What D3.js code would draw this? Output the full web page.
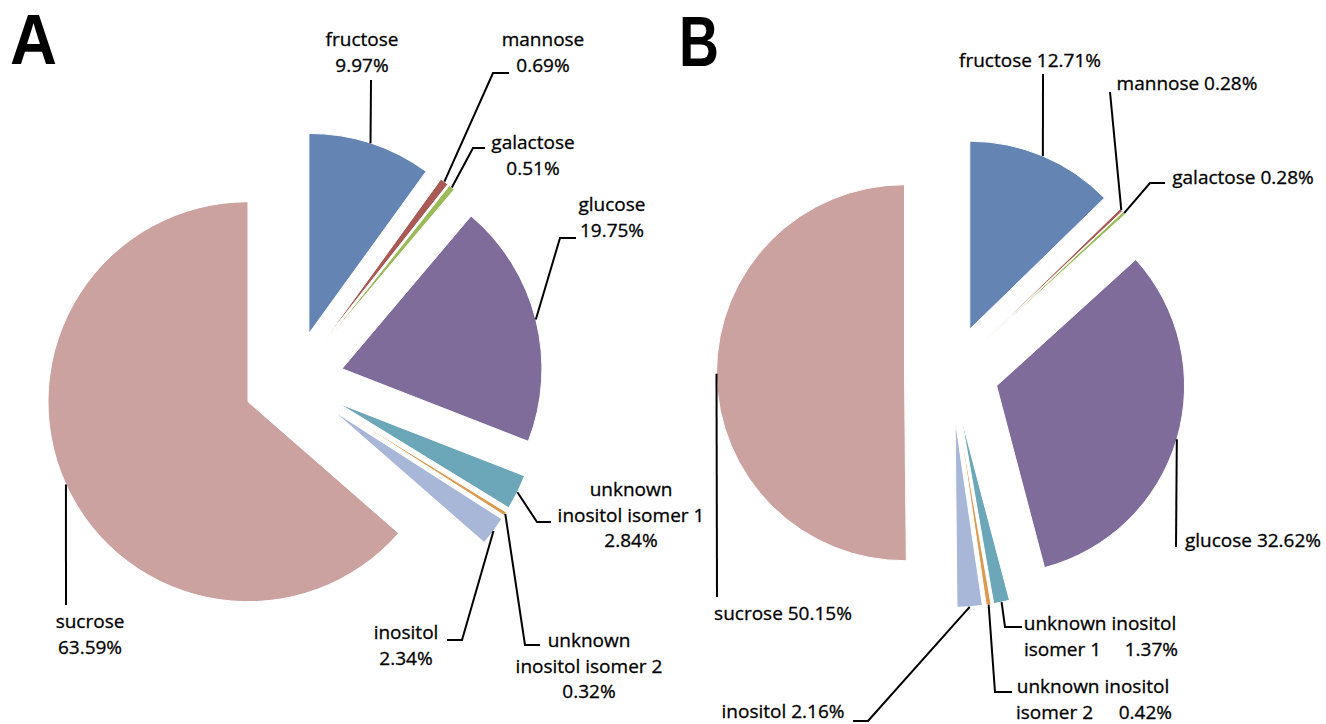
<!DOCTYPE html>
<html>
<head>
<meta charset="utf-8">
<script src="https://cdn.jsdelivr.net/npm/d3@7"></script>
<style>
  html, body { margin: 0; padding: 0; background: #fff; }
  svg { display: block; }
  text.lab { font-family: "Open Sans", "DejaVu Sans", sans-serif; fill: #000; stroke: #000; stroke-width: 0.3; }
  text.letter { font-family: "Liberation Sans", Arial, sans-serif; font-weight: bold; fill: #000; }
</style>
</head>
<body>
<svg id="chart" width="1326" height="724"></svg>
<script>
// ---- data ----
const categories = ["fructose", "mannose", "galactose", "glucose",
  "unknown inositol isomer 1", "unknown inositol isomer 2", "inositol", "sucrose"];
const valuesA = [9.97, 0.69, 0.51, 19.75, 2.84, 0.32, 2.34, 63.59];
const valuesB = [12.71, 0.28, 0.28, 32.62, 1.37, 0.42, 2.16, 50.15];
const panelLetters = ["A", "B"];
const colors = ["#6484B4", "#AA5A55", "#9BBB59", "#7F6C9B", "#6CA6B9", "#DB9A50", "#A8B6D7", "#CBA2A0"];

// ---- layout (positions only) ----
const pct = v => v.toFixed(2) + "%";

const panels = [
  {
    letter: panelLetters[0], letterX: 10, letterY: 64, letterW: 47,
    values: valuesA, cx: 293.5, cy: 381, r: 200, explode: 50,
    labels: [
      { lines: d => ["fructose", pct(d)], x: 362, y: 46, leader: [[371, 80]] },
      { lines: d => ["mannose", pct(d)], x: 543, y: 46, leader: [[493, 73], [509, 73]] },
      { lines: d => ["galactose", pct(d)], x: 533, y: 149, leader: [[473, 148], [485, 148]] },
      { lines: d => ["glucose", pct(d)], x: 612, y: 211, leader: [[560, 238], [576, 238]] },
      { lines: d => ["unknown", "inositol isomer 1", pct(d)], x: 631, y: 496, leader: [[537, 522], [551, 522]] },
      { lines: d => ["unknown", "inositol isomer 2", pct(d)], x: 589, y: 647, leader: [[525, 645], [540, 645]] },
      { lines: d => ["inositol", pct(d)], x: 406, y: 639, leader: [[462, 640], [447, 640]] },
      { lines: d => ["sucrose", pct(d)], x: 90, y: 628, leader: [[66, 605]] }
    ]
  },
  {
    letter: panelLetters[1], letterX: 679, letterY: 66, letterW: 40,
    values: valuesB, cx: 951.5, cy: 372.5, r: 188, explode: 47,
    labels: [
      { lines: d => ["fructose " + pct(d)], x: 1030, y: 67, leader: [[1043, 74]] },
      { lines: d => ["mannose " + pct(d)], x: 1187, y: 90, leader: [[1110, 92]] },
      { lines: d => ["galactose " + pct(d)], x: 1243, y: 184, leader: [[1150, 183], [1165, 183]] },
      { lines: d => ["glucose " + pct(d)], x: 1253, y: 547, leader: [[1176, 547]] },
      { lines: d => ["unknown inositol", ["isomer 1", pct(d)]], x: 1100, y: 630, span: [1024, 1178], leader: [[1005, 627], [1022, 627]] },
      { lines: d => ["unknown inositol", ["isomer 2", pct(d)]], x: 1093, y: 693, span: [1016, 1172], leader: [[995, 692], [1012, 692]] },
      { lines: d => ["inositol " + pct(d)], x: 783, y: 718, leader: [[868, 721], [853, 721]] },
      { lines: d => ["sucrose " + pct(d)], x: 783, y: 620, leader: [[717, 597]] }
    ]
  }
];

const svg = d3.select("#chart");
const lineH = 25.5;
const fs = 19;

panels.forEach(p => {
  const pie = d3.pie().sort(null).value(d => d).startAngle(0).endAngle(2 * Math.PI);
  const arcs = pie(p.values);
  const arc = d3.arc().innerRadius(0).outerRadius(p.r);
  const g = svg.append("g").attr("transform", `translate(${p.cx},${p.cy})`);

  const offset = a => {
    const m = (a.startAngle + a.endAngle) / 2;
    return [p.explode * Math.sin(m), -p.explode * Math.cos(m)];
  };

  g.selectAll("path.slice").data(arcs).enter().append("path")
    .attr("class", "slice")
    .attr("d", arc)
    .attr("transform", d => { const o = offset(d); return `translate(${o[0]},${o[1]})`; })
    .attr("fill", (d, i) => colors[i])
    .attr("stroke", "#fff").attr("stroke-width", 1);

  // leader lines: from slice arc midpoint to label
  arcs.forEach((a, i) => {
    const lab = p.labels[i];
    const m = (a.startAngle + a.endAngle) / 2;
    const o = offset(a);
    const sx = p.cx + o[0] + p.r * Math.sin(m);
    const sy = p.cy + o[1] - p.r * Math.cos(m);
    const pts = [[sx, sy]].concat(lab.leader);
    svg.append("path")
      .attr("d", d3.line()(pts))
      .attr("fill", "none").attr("stroke", "#000").attr("stroke-width", 2);

    const lines = lab.lines(a.data);
    lines.forEach((ln, k) => {
      const y = lab.y + k * lineH;
      if (Array.isArray(ln)) {
        svg.append("text").attr("class", "lab").attr("x", lab.span[0]).attr("y", y)
          .attr("text-anchor", "start").attr("font-size", fs).text(ln[0]);
        svg.append("text").attr("class", "lab").attr("x", lab.span[1]).attr("y", y)
          .attr("text-anchor", "end").attr("font-size", fs).text(ln[1]);
      } else {
        svg.append("text").attr("class", "lab").attr("x", lab.x).attr("y", y)
          .attr("text-anchor", "middle").attr("font-size", fs).text(ln);
      }
    });
  });

  svg.append("text").attr("class", "letter")
    .attr("x", p.letterX).attr("y", p.letterY)
    .attr("font-size", 70)
    .attr("textLength", p.letterW).attr("lengthAdjust", "spacingAndGlyphs")
    .text(p.letter);
});
</script>
</body>
</html>
